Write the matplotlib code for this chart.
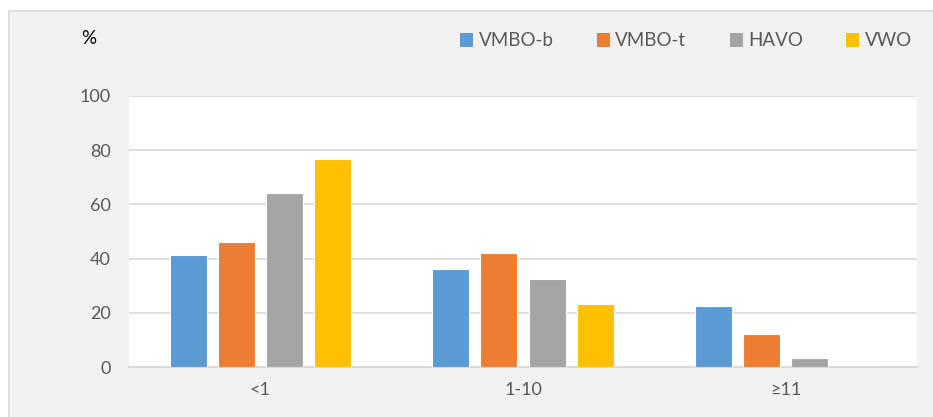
import matplotlib.pyplot as plt
from matplotlib.patches import Rectangle, Patch
import numpy as np

plt.rcParams['font.family'] = ['Lato', 'DejaVu Sans']

categories = ['<1', '1-10', '≥11']
series = ['VMBO-b', 'VMBO-t', 'HAVO', 'VWO']
values = {
    'VMBO-b': [41.4, 36.3, 22.4],
    'VMBO-t': [46.2, 41.9, 12.0],
    'HAVO': [64.3, 32.4, 3.4],
    'VWO': [76.8, 23.2, 0.0],
}
colors = ['#5b9bd5', '#ed7d31', '#a5a5a5', '#ffc000']
yticks = [0, 20, 40, 60, 80, 100]

W, H = 933, 417
fig = plt.figure(figsize=(W / 100, H / 100), dpi=100, facecolor='white')

# chart area background, border only visible on top and left
fig.patches.append(Rectangle((9 / W, -0.05), 1.05, 1.05 - 10.5 / H, transform=fig.transFigure,
                             facecolor='#f2f2f2', edgecolor='#d9d9d9', linewidth=1.2, zorder=-10))

ax = fig.add_axes([129 / W, 1 - 367 / H, (917 - 129) / W, (367 - 96) / H])
ax.set_facecolor('white')

x = np.arange(len(categories))
step = 0.183
width = 0.141
for i, (name, c) in enumerate(zip(series, colors)):
    off = (i - 1.5) * step
    ax.bar(x + off, values[name], width, color=c, edgecolor='white', linewidth=0.8, zorder=3)

ax.set_xlim(-0.5, 2.5)
ax.set_ylim(0, 100)
ax.set_yticks(yticks)
ax.set_xticks(x)
ax.set_xticklabels(categories)
ax.grid(axis='y', color='#d9d9d9', linewidth=1.2, zorder=0)
for s in ['top', 'right', 'left']:
    ax.spines[s].set_visible(False)
ax.spines['bottom'].set_color('#d9d9d9')
ax.spines['bottom'].set_linewidth(1.5)
ax.tick_params(axis='both', length=0, labelsize=13, labelcolor='#595959')
ax.tick_params(axis='y', pad=13)
ax.tick_params(axis='x', pad=11)

fig.text(89 / W, 1 - 38 / H, '%', fontsize=13.5, color='black', ha='center', va='center')

handles = [Patch(facecolor=c, edgecolor='none') for c in colors]
fig.legend(handles, series, loc='center right', bbox_to_anchor=(929 / W, 1 - 41 / H),
           ncol=4, frameon=False, fontsize=13.5, labelcolor='#595959',
           handlelength=0.7, handleheight=0.7, handletextpad=0.3, columnspacing=2.3)

fig.savefig('out.png', dpi=100, facecolor=fig.get_facecolor())
